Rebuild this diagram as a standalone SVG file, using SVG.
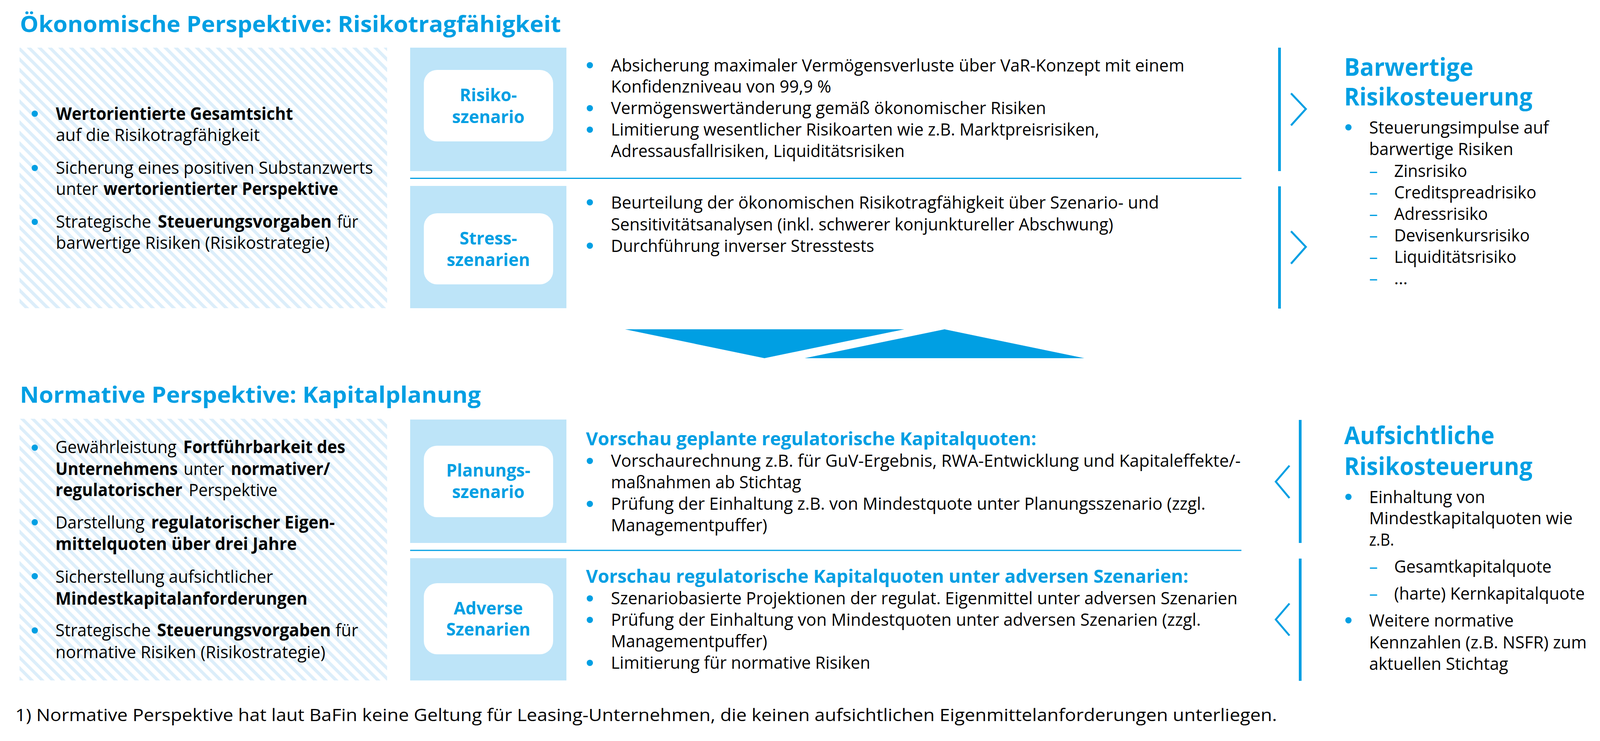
<svg xmlns="http://www.w3.org/2000/svg" width="4123" height="1897" viewBox="0 0 4123 1897">
<defs>
<pattern id="stripes" patternUnits="userSpaceOnUse" width="19" height="19" patternTransform="rotate(-45)">
<rect x="0" y="0" width="19" height="19" fill="#FFFFFF"/>
<rect x="0" y="0" width="8" height="19" fill="#DCEEFA"/>
</pattern>
<style>
text{font-family:"Open Sans","Liberation Sans",sans-serif;font-size:44px;fill:#000000}
.b{font-weight:700}
.h1{font-size:58px;font-weight:700;fill:#009FE3}
.h2{font-size:62px;font-weight:700;fill:#009FE3}
.h3{font-size:47px;font-weight:700;fill:#009FE3}
.lbl{font-weight:700;fill:#009FE3;text-anchor:middle}
.dash{fill:#009FE3}
.panel{fill:#BDE4F8}
.wbox{fill:#FFFFFF}
.dot{fill:#009FE3}
.sep{stroke:#009FE3;stroke-width:3;fill:none}
.vl{fill:#009FE3}
.chev{stroke:#009FE3;stroke-width:5;fill:none;stroke-linecap:butt;stroke-linejoin:miter}
.arr{fill:#009FE3}
</style>
</defs>
<rect x="0" y="0" width="4123" height="1897" fill="#FFFFFF"/>

<g id="title-oekonomisch">
<text class="h1" x="51" y="82" textLength="1385" lengthAdjust="spacingAndGlyphs">Ökonomische Perspektive: Risikotragfähigkeit</text>
</g>

<g id="box-left-oekonomisch">
<rect x="50" y="122" width="941" height="667" fill="url(#stripes)"/>
<circle class="dot" cx="89" cy="291" r="8"/>
<circle class="dot" cx="89" cy="430" r="8"/>
<circle class="dot" cx="89" cy="568" r="8"/>
<text x="143" y="307" class="b" textLength="607" lengthAdjust="spacingAndGlyphs">Wertorientierte Gesamtsicht</text>
<text x="143" y="361" textLength="522" lengthAdjust="spacingAndGlyphs">auf die Risikotragfähigkeit</text>
<text x="143" y="445" textLength="812" lengthAdjust="spacingAndGlyphs">Sicherung eines positiven Substanzwerts</text>
<text x="143" y="499" textLength="108" lengthAdjust="spacingAndGlyphs">unter</text>
<text x="265" y="499" class="b" textLength="601" lengthAdjust="spacingAndGlyphs">wertorientierter Perspektive</text>
<text x="143" y="583" textLength="244" lengthAdjust="spacingAndGlyphs">Strategische</text>
<text x="404" y="583" class="b" textLength="445" lengthAdjust="spacingAndGlyphs">Steuerungsvorgaben</text>
<text x="863" y="583" textLength="54" lengthAdjust="spacingAndGlyphs">für</text>
<text x="143" y="637" textLength="701" lengthAdjust="spacingAndGlyphs">barwertige Risiken (Risikostrategie)</text>
</g>

<g id="panel-risikoszenario">
<rect class="panel" x="1050" y="122" width="400" height="316"/>
<rect class="wbox" x="1085" y="179" width="331" height="183" rx="34" ry="34"/>
<text class="lbl" x="1250" y="259">Risiko-</text>
<text class="lbl" x="1250" y="315">szenario</text>
<circle class="dot" cx="1510" cy="167" r="8"/>
<circle class="dot" cx="1510" cy="277" r="8"/>
<circle class="dot" cx="1510" cy="332" r="8"/>
<text x="1564" y="183" textLength="1468" lengthAdjust="spacingAndGlyphs">Absicherung maximaler Vermögensverluste über VaR-Konzept mit einem</text>
<text x="1564" y="237" textLength="564" lengthAdjust="spacingAndGlyphs">Konfidenzniveau von 99,9 %</text>
<text x="1564" y="292" textLength="1114" lengthAdjust="spacingAndGlyphs">Vermögenswertänderung gemäß ökonomischer Risiken</text>
<text x="1564" y="347" textLength="1250" lengthAdjust="spacingAndGlyphs">Limitierung wesentlicher Risikoarten wie z.B. Marktpreisrisiken,</text>
<text x="1564" y="402" textLength="752" lengthAdjust="spacingAndGlyphs">Adressausfallrisiken, Liquiditätsrisiken</text>
</g>

<g id="panel-stressszenarien">
<rect class="panel" x="1050" y="476" width="400" height="313"/>
<rect class="wbox" x="1085" y="546" width="331" height="182" rx="34" ry="34"/>
<text class="lbl" x="1250" y="626">Stress-</text>
<text class="lbl" x="1250" y="681">szenarien</text>
<circle class="dot" cx="1510" cy="518" r="8"/>
<circle class="dot" cx="1510" cy="629" r="8"/>
<text x="1564" y="534" textLength="1403" lengthAdjust="spacingAndGlyphs">Beurteilung der ökonomischen Risikotragfähigkeit über Szenario- und</text>
<text x="1564" y="590" textLength="1286" lengthAdjust="spacingAndGlyphs">Sensitivitätsanalysen (inkl. schwerer konjunktureller Abschwung)</text>
<text x="1564" y="645" textLength="674" lengthAdjust="spacingAndGlyphs">Durchführung inverser Stresstests</text>
</g>

<g id="right-barwertige-risikosteuerung">
<text class="h2" x="3441" y="194" textLength="331" lengthAdjust="spacingAndGlyphs">Barwertige</text>
<text class="h2" x="3441" y="270" textLength="482" lengthAdjust="spacingAndGlyphs">Risikosteuerung</text>
<circle class="dot" cx="3452" cy="326" r="8"/>
<text x="3505" y="342" textLength="460" lengthAdjust="spacingAndGlyphs">Steuerungsimpulse auf</text>
<text x="3505" y="397" textLength="369" lengthAdjust="spacingAndGlyphs">barwertige Risiken</text>
<text class="dash" x="3505" y="453">–</text>
<text x="3569" y="453" textLength="187" lengthAdjust="spacingAndGlyphs">Zinsrisiko</text>
<text class="dash" x="3505" y="508">–</text>
<text x="3569" y="508" textLength="364" lengthAdjust="spacingAndGlyphs">Creditspreadrisiko</text>
<text class="dash" x="3505" y="563">–</text>
<text x="3569" y="563" textLength="240" lengthAdjust="spacingAndGlyphs">Adressrisiko</text>
<text class="dash" x="3505" y="618">–</text>
<text x="3569" y="618" textLength="347" lengthAdjust="spacingAndGlyphs">Devisenkursrisiko</text>
<text class="dash" x="3505" y="673">–</text>
<text x="3569" y="673" textLength="313" lengthAdjust="spacingAndGlyphs">Liquiditätsrisiko</text>
<text class="dash" x="3505" y="728">–</text>
<text x="3569" y="728">...</text>
</g>

<g id="title-normativ">
<text class="h1" x="51" y="1031" textLength="1180" lengthAdjust="spacingAndGlyphs">Normative Perspektive: Kapitalplanung</text>
</g>

<g id="box-left-normativ">
<rect x="50" y="1072" width="941" height="670" fill="url(#stripes)"/>
<circle class="dot" cx="89" cy="1146" r="8"/>
<circle class="dot" cx="89" cy="1337" r="8"/>
<circle class="dot" cx="89" cy="1475" r="8"/>
<circle class="dot" cx="89" cy="1614" r="8"/>
<text x="142" y="1160" textLength="310" lengthAdjust="spacingAndGlyphs">Gewährleistung</text>
<text x="469" y="1160" class="b" textLength="415" lengthAdjust="spacingAndGlyphs">Fortführbarkeit des</text>
<text x="142" y="1216" class="b" textLength="313" lengthAdjust="spacingAndGlyphs">Unternehmens</text>
<text x="470" y="1216" textLength="104" lengthAdjust="spacingAndGlyphs">unter</text>
<text x="591" y="1216" class="b" textLength="254" lengthAdjust="spacingAndGlyphs">normativer/</text>
<text x="142" y="1270" class="b" textLength="325" lengthAdjust="spacingAndGlyphs">regulatorischer</text>
<text x="483" y="1270" textLength="227" lengthAdjust="spacingAndGlyphs">Perspektive</text>
<text x="142" y="1353" textLength="228" lengthAdjust="spacingAndGlyphs">Darstellung</text>
<text x="387" y="1353" class="b" textLength="470" lengthAdjust="spacingAndGlyphs">regulatorischer Eigen-</text>
<text x="142" y="1408" class="b" textLength="618" lengthAdjust="spacingAndGlyphs">mittelquoten über drei Jahre</text>
<text x="142" y="1492" textLength="557" lengthAdjust="spacingAndGlyphs">Sicherstellung aufsichtlicher</text>
<text x="142" y="1548" class="b" textLength="645" lengthAdjust="spacingAndGlyphs">Mindestkapitalanforderungen</text>
<text x="142" y="1629" textLength="244" lengthAdjust="spacingAndGlyphs">Strategische</text>
<text x="402" y="1629" class="b" textLength="445" lengthAdjust="spacingAndGlyphs">Steuerungsvorgaben</text>
<text x="859" y="1629" textLength="58" lengthAdjust="spacingAndGlyphs">für</text>
<text x="142" y="1685" textLength="691" lengthAdjust="spacingAndGlyphs">normative Risiken (Risikostrategie)</text>
</g>

<g id="panel-planungsszenario">
<rect class="panel" x="1050" y="1074" width="400" height="316"/>
<rect class="wbox" x="1085" y="1141" width="331" height="183" rx="34" ry="34"/>
<text class="lbl" x="1250" y="1220">Planungs-</text>
<text class="lbl" x="1250" y="1275">szenario</text>
<text class="h3" x="1500" y="1140" textLength="1153" lengthAdjust="spacingAndGlyphs">Vorschau geplante regulatorische Kapitalquoten:</text>
<circle class="dot" cx="1510" cy="1180" r="8"/>
<circle class="dot" cx="1510" cy="1290" r="8"/>
<text x="1564" y="1195" textLength="1612" lengthAdjust="spacingAndGlyphs">Vorschaurechnung z.B. für GuV-Ergebnis, RWA-Entwicklung und Kapitaleffekte/-</text>
<text x="1564" y="1250" textLength="487" lengthAdjust="spacingAndGlyphs">maßnahmen ab Stichtag</text>
<text x="1564" y="1305" textLength="1522" lengthAdjust="spacingAndGlyphs">Prüfung der Einhaltung z.B. von Mindestquote unter Planungsszenario (zzgl.</text>
<text x="1564" y="1360" textLength="400" lengthAdjust="spacingAndGlyphs">Managementpuffer)</text>
</g>

<g id="panel-adverse-szenarien">
<rect class="panel" x="1050" y="1429" width="400" height="313"/>
<rect class="wbox" x="1085" y="1493" width="331" height="182" rx="34" ry="34"/>
<text class="lbl" x="1250" y="1573">Adverse</text>
<text class="lbl" x="1250" y="1627">Szenarien</text>
<text class="h3" x="1500" y="1492" textLength="1542" lengthAdjust="spacingAndGlyphs">Vorschau regulatorische Kapitalquoten unter adversen Szenarien:</text>
<circle class="dot" cx="1510" cy="1532" r="8"/>
<circle class="dot" cx="1510" cy="1587" r="8"/>
<circle class="dot" cx="1510" cy="1697" r="8"/>
<text x="1564" y="1547" textLength="1604" lengthAdjust="spacingAndGlyphs">Szenariobasierte Projektionen der regulat. Eigenmittel unter adversen Szenarien</text>
<text x="1564" y="1602" textLength="1510" lengthAdjust="spacingAndGlyphs">Prüfung der Einhaltung von Mindestquoten unter adversen Szenarien (zzgl.</text>
<text x="1564" y="1657" textLength="400" lengthAdjust="spacingAndGlyphs">Managementpuffer)</text>
<text x="1564" y="1712" textLength="664" lengthAdjust="spacingAndGlyphs">Limitierung für normative Risiken</text>
</g>

<g id="right-aufsichtliche-risikosteuerung">
<text class="h2" x="3441" y="1137" textLength="385" lengthAdjust="spacingAndGlyphs">Aufsichtliche</text>
<text class="h2" x="3441" y="1216" textLength="482" lengthAdjust="spacingAndGlyphs">Risikosteuerung</text>
<circle class="dot" cx="3452" cy="1272" r="8"/>
<text x="3505" y="1288" textLength="297" lengthAdjust="spacingAndGlyphs">Einhaltung von</text>
<text x="3505" y="1342" textLength="521" lengthAdjust="spacingAndGlyphs">Mindestkapitalquoten wie</text>
<text x="3505" y="1397" textLength="64" lengthAdjust="spacingAndGlyphs">z.B.</text>
<text class="dash" x="3505" y="1466">–</text>
<text x="3569" y="1466" textLength="403" lengthAdjust="spacingAndGlyphs">Gesamtkapitalquote</text>
<text class="dash" x="3505" y="1535">–</text>
<text x="3569" y="1535" textLength="488" lengthAdjust="spacingAndGlyphs">(harte) Kernkapitalquote</text>
<circle class="dot" cx="3452" cy="1588" r="8"/>
<text x="3505" y="1604" textLength="370" lengthAdjust="spacingAndGlyphs">Weitere normative</text>
<text x="3505" y="1660" textLength="557" lengthAdjust="spacingAndGlyphs">Kennzahlen (z.B. NSFR) zum</text>
<text x="3505" y="1715" textLength="356" lengthAdjust="spacingAndGlyphs">aktuellen Stichtag</text>
</g>

<g id="connectors">
<line class="sep" x1="1050" y1="456.5" x2="3178" y2="456.5"/>
<line class="sep" x1="1050" y1="1409" x2="3178" y2="1409"/>
<rect class="vl" x="3272" y="122" width="7" height="316"/>
<rect class="vl" x="3272" y="477" width="7" height="313"/>
<polyline class="chev" points="3305,239 3343,279 3305,321"/>
<polyline class="chev" points="3305,592 3343,632 3305,675"/>
<rect class="vl" x="3325" y="1075" width="7" height="315"/>
<rect class="vl" x="3325" y="1430" width="7" height="313"/>
<polyline class="chev" points="3301,1192 3266,1233 3301,1275"/>
<polyline class="chev" points="3301,1545 3266,1586 3301,1627"/>
<polygon class="arr" points="1600,843 2315,843 1957,917"/>
<polygon class="arr" points="2418,843 2776,917 2060,917"/>
</g>

<g id="footnote">
<text x="39" y="1846" textLength="3230" lengthAdjust="spacingAndGlyphs">1) Normative Perspektive hat laut BaFin keine Geltung für Leasing-Unternehmen, die keinen aufsichtlichen Eigenmittelanforderungen unterliegen.</text>
</g>
</svg>
